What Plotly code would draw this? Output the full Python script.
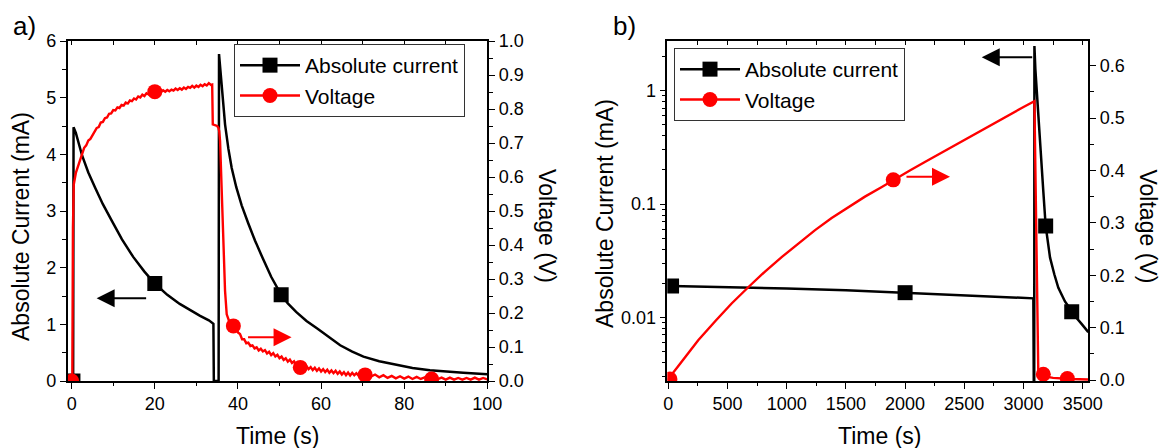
import plotly.graph_objects as go

# ---------------- Panel a data ----------------
a_cur_t = [0, 0.35, 0.45, 1.0, 2.5, 4.0, 5.7, 7.5, 9.7, 12.1, 14.8, 17.5, 20, 23, 26, 28.5, 30.9, 33, 34.1,
           34.2, 35.35, 35.45, 35.7, 36.2, 36.9, 37.7, 38.5, 39.6, 40.9, 42.5, 44.1, 46, 48, 50.4, 52, 54,
           56.5, 59, 61.5, 64.6, 67.5, 70.2, 74, 78.2, 82, 86.2, 90, 94.2, 100]
a_cur = [0, 0, 4.48, 4.38, 3.98, 3.68, 3.40, 3.12, 2.82, 2.50, 2.19, 1.93, 1.72, 1.52, 1.36, 1.25, 1.15, 1.07, 1.01,
         0, 0, 5.77, 5.55, 5.0, 4.53, 4.1, 3.76, 3.42, 3.1, 2.78, 2.48, 2.16, 1.84, 1.52, 1.37, 1.22,
         1.06, 0.93, 0.79, 0.63, 0.52, 0.43, 0.35, 0.28, 0.23, 0.19, 0.165, 0.145, 0.12]

a_volt_t = [0, 0.15, 0.3, 0.5,
            1.0, 1.5, 2.0, 2.5, 3.0, 3.5, 4.0, 4.5, 5.0, 5.5, 6.0, 6.5, 7.0, 7.5, 8.0, 8.5, 9.0, 9.5,
            10.0, 10.5, 11.0, 11.5, 12.0, 12.5, 13.0, 13.5, 14.0, 14.5, 15.0, 15.5, 16.0, 16.5, 17.0, 17.5,
            18.0, 18.5, 19.0, 19.5, 20.0, 20.5, 21.0, 21.5, 22.0, 22.5, 23.0, 23.5, 24.0, 24.5, 25.0, 25.5,
            26.0, 26.5, 27.0, 27.5, 28.0, 28.5, 29.0, 29.5, 30.0, 30.5, 31.0, 31.5, 32.0, 32.5, 33.0, 33.5,
            33.8, 33.95, 34.5, 35.0, 35.3, 35.5, 35.7, 36.1, 36.5, 36.9, 37.3, 37.7, 38.0,
            38.5, 39.0, 39.5, 40.0, 40.5, 41.0, 41.5, 42.0, 42.5, 43.0, 43.5, 44.0, 44.5, 45.0, 45.5, 46.0,
            46.5, 47.0, 47.5, 48.0, 48.5, 49.0, 49.5, 50.0, 50.5, 51.0, 51.5, 52.0, 52.5, 53.0, 53.5, 54.0,
            54.5, 55.0, 55.5, 56.0, 56.5, 57.0, 57.5, 58.0, 58.5, 59.0, 59.5, 60.0, 60.5, 61.0, 61.5, 62.0,
            62.5, 63.0, 63.5, 64.0, 64.5, 65.0, 65.5, 66.0, 66.5, 67.0, 67.5, 68.0, 68.5, 69.0, 69.5, 70.0,
            71, 72, 73, 74, 75, 76, 77, 78, 79, 80, 81, 82, 83, 84, 85, 86, 87, 88, 89, 90,
            91, 92, 93, 94, 95, 96, 97, 98, 99, 100]
a_volt = [0, 0.0, 0.45, 0.578,
          0.612, 0.630, 0.654, 0.670, 0.686, 0.693, 0.707, 0.712, 0.723, 0.731, 0.744, 0.747, 0.760, 0.762,
          0.773, 0.775, 0.786, 0.787,
          0.797, 0.796, 0.805, 0.803, 0.812, 0.810, 0.819, 0.816, 0.825, 0.823, 0.831, 0.828, 0.837, 0.834,
          0.842, 0.838,
          0.846, 0.843, 0.849, 0.847, 0.852, 0.849, 0.853, 0.850, 0.855, 0.851, 0.856, 0.852, 0.857, 0.854,
          0.860, 0.856,
          0.861, 0.857, 0.863, 0.859, 0.865, 0.862, 0.868, 0.863, 0.869, 0.865, 0.871, 0.867, 0.873, 0.869,
          0.876, 0.871,
          0.872, 0.755, 0.752, 0.750, 0.745, 0.735, 0.706, 0.56, 0.41, 0.265, 0.196, 0.180, 0.172,
          0.169, 0.159, 0.156, 0.143, 0.138, 0.123, 0.123, 0.111, 0.113, 0.103, 0.105, 0.096, 0.099, 0.090,
          0.095, 0.087,
          0.091, 0.081, 0.086, 0.076, 0.082, 0.072, 0.077, 0.067, 0.072, 0.062, 0.067, 0.057, 0.063, 0.053,
          0.058, 0.048,
          0.051, 0.042, 0.046, 0.038, 0.044, 0.035, 0.041, 0.032, 0.039, 0.030, 0.037, 0.028, 0.035, 0.026,
          0.033, 0.024,
          0.031, 0.023, 0.030, 0.021, 0.028, 0.019, 0.026, 0.017, 0.025, 0.016, 0.024, 0.017, 0.023, 0.016,
          0.022, 0.015,
          0.021, 0.013, 0.019, 0.011, 0.017, 0.009, 0.015, 0.008, 0.014, 0.007, 0.013, 0.006, 0.012, 0.006,
          0.011, 0.005, 0.011, 0.005, 0.010, 0.004,
          0.010, 0.004, 0.009, 0.004, 0.009, 0.004, 0.010, 0.004, 0.009, 0.005]

a_cur_mk_t = [0.3, 20, 50.4]
a_cur_mk = [0.0, 1.72, 1.52]
a_volt_mk_t = [0, 20, 38.9, 55, 70.6, 86.6]
a_volt_mk = [0.0, 0.851, 0.162, 0.040, 0.018, 0.006]

# ---------------- Panel b data ----------------
b_cur_t = [28, 500, 1000, 1500, 2000, 2500, 3000, 3083, 3090, 3092, 3100, 3111, 3125, 3139, 3153, 3167,
           3187, 3205, 3224, 3260, 3294, 3350, 3407, 3450, 3492, 3547]
b_cur = [0.0189, 0.0185, 0.0180, 0.0173, 0.0165, 0.0157, 0.0149, 0.0147, 0.0005, 2.48, 1.55, 0.99, 0.60,
         0.36, 0.21, 0.13, 0.064, 0.045, 0.0336, 0.024, 0.0182, 0.0138, 0.0112, 0.0098, 0.0087, 0.0074]

b_volt_t = [0, 14, 100, 253, 400, 535, 680, 817, 960, 1098, 1240, 1380, 1520, 1661, 1800, 1900, 2040,
            2182, 2340, 2500, 2620, 2745, 2900, 3000, 3092, 3125, 3160, 3200, 3250, 3300, 3400, 3547]
b_volt = [0.0, 0.006, 0.031, 0.076, 0.113, 0.146, 0.178, 0.207, 0.235, 0.261, 0.286, 0.309, 0.330, 0.350,
          0.368, 0.382, 0.400, 0.418, 0.438, 0.458, 0.474, 0.490, 0.509, 0.521, 0.532, 0.012, 0.009, 0.006,
          0.004, 0.003, 0.002, 0.001]

b_cur_mk_t = [28, 2000, 3187, 3407]
b_cur_mk = [0.0189, 0.0165, 0.064, 0.0112]
b_volt_mk_t = [14, 1900, 3167, 3370]
b_volt_mk = [0.002, 0.382, 0.011, 0.003]

# ---------------- Labels ----------------
cur_name = "Absolute current"
volt_name = "Voltage"
xtitle = "Time (s)"
ytitle_a = "Absolute Current (mA)"
ytitle_b = "Absolute Current (mA)"
y2title = "Voltage (V)"
log_tickvals = [0.01, 0.1, 1]
log_ticktext = ["0.01", "0.1", "1"]
log_minor = [0.003, 0.004, 0.005, 0.006, 0.007, 0.008, 0.009,
             0.02, 0.03, 0.04, 0.05, 0.06, 0.07, 0.08, 0.09,
             0.2, 0.3, 0.4, 0.5, 0.6, 0.7, 0.8, 0.9, 2]

W, H = 1162, 448
FONT = "Liberation Sans, Arial, sans-serif"
BLACK = "#000000"
RED = "#ff0000"

xa = [67.7 / W, 487.3 / W]
xb = [667.3 / W, 1088.3 / W]
yd = [1 - 381 / H, 1 - 41 / H]

fig = go.Figure()

def add(x, y, xa_, ya_, color, mode, symbol=None, width=2.5, name=None, legend="legend", showlegend=False):
    kw = dict(x=x, y=y, xaxis=xa_, yaxis=ya_, mode=mode, showlegend=showlegend, hoverinfo="skip")
    if "lines" in mode:
        kw["line"] = dict(color=color, width=width)
    if "markers" in mode:
        kw["marker"] = dict(color=color, symbol=symbol, size=15, line=dict(width=0))
    if name:
        kw["name"] = name
        kw["legend"] = legend
    fig.add_trace(go.Scatter(**kw))

# panel a
add(a_cur_t, a_cur, "x", "y", BLACK, "lines", width=2.5)
add(a_cur_mk_t, a_cur_mk, "x", "y", BLACK, "markers", symbol="square")
add(a_volt_t, a_volt, "x", "y2", RED, "lines", width=2.4)
add(a_volt_mk_t, a_volt_mk, "x", "y2", RED, "markers", symbol="circle")
add([None], [None], "x", "y", BLACK, "lines+markers", symbol="square", width=2.5, name=cur_name,
    legend="legend", showlegend=True)
add([None], [None], "x", "y2", RED, "lines+markers", symbol="circle", width=2.4, name=volt_name,
    legend="legend", showlegend=True)
fig.add_trace(go.Scatter(x=[None], y=[None], xaxis="x3", yaxis="y", showlegend=False, hoverinfo="skip"))

# panel b
add(b_cur_t, b_cur, "x2", "y3", BLACK, "lines", width=2.5)
add(b_cur_mk_t, b_cur_mk, "x2", "y3", BLACK, "markers", symbol="square")
add(b_volt_t, b_volt, "x2", "y4", RED, "lines", width=2.4)
add(b_volt_mk_t, b_volt_mk, "x2", "y4", RED, "markers", symbol="circle")
add([None], [None], "x2", "y3", BLACK, "lines+markers", symbol="square", width=2.5, name=cur_name,
    legend="legend2", showlegend=True)
add([None], [None], "x2", "y4", RED, "lines+markers", symbol="circle", width=2.4, name=volt_name,
    legend="legend2", showlegend=True)
fig.add_trace(go.Scatter(x=[None], y=[None], xaxis="x4", yaxis="y3", showlegend=False, hoverinfo="skip"))

TICKF = dict(family=FONT, size=18, color=BLACK)
common = dict(showgrid=False, zeroline=False, showline=True, linecolor=BLACK, linewidth=1.5,
              ticks="outside", ticklen=6, tickwidth=1.3, tickcolor=BLACK, tickfont=TICKF, automargin=False)
minor_common = dict(ticks="outside", ticklen=3.5, tickwidth=1.2, tickcolor=BLACK, showgrid=False)
top_common = dict(ticks="inside", ticklen=4, tickwidth=1.2, tickcolor=BLACK, showticklabels=False,
                  showgrid=False, zeroline=False, showline=False, automargin=False)

LEGF = dict(family=FONT, size=21, color=BLACK)
fig.update_layout(
    template="none",
    width=W, height=H, margin=dict(l=0, r=0, t=0, b=0, pad=0, autoexpand=False),
    paper_bgcolor="white", plot_bgcolor="white",
    font=dict(family=FONT, color=BLACK),
    xaxis=dict(domain=xa, range=[-0.96, 100], anchor="y", dtick=20, mirror=True,
               minor=dict(dtick=10, **minor_common), **common),
    yaxis=dict(domain=yd, range=[0, 6], anchor="x", dtick=1,
               minor=dict(dtick=0.5, **minor_common), **common),
    yaxis2=dict(overlaying="y", side="right", anchor="x", range=[0, 1], dtick=0.1, tickformat=".1f",
                minor=dict(dtick=0.05, **minor_common), **common),
    xaxis3=dict(overlaying="x", side="top", anchor="y", range=[-0.96, 100], dtick=10, **top_common),
    xaxis2=dict(domain=xb, range=[-8, 3547], anchor="y3", dtick=500, mirror=True,
                minor=dict(dtick=250, **minor_common), **common),
    yaxis3=dict(domain=yd, type="log", range=[-2.562, 0.4387], anchor="x2",
                tickvals=log_tickvals, ticktext=log_ticktext,
                minor=dict(tickvals=log_minor, **minor_common), **common),
    yaxis4=dict(overlaying="y3", side="right", anchor="x2", range=[-0.0019, 0.647], dtick=0.1,
                tickformat=".1f", minor=dict(dtick=0.05, **minor_common), **common),
    xaxis4=dict(overlaying="x2", side="top", anchor="y3", range=[-8, 3547], dtick=250, **top_common),
    legend=dict(x=234 / W, y=1 - 44 / H, xanchor="left", yanchor="top", bgcolor="white",
                bordercolor="#333333", borderwidth=1, font=LEGF, itemwidth=60, tracegroupgap=0),
    legend2=dict(x=674 / W, y=1 - 48 / H, xanchor="left", yanchor="top", bgcolor="white",
                 bordercolor="#333333", borderwidth=1, font=LEGF, itemwidth=60, tracegroupgap=0),
)

TF = dict(family=FONT, size=23, color=BLACK)
ann = [
    dict(text="a)", x=11 / W, y=1 - 26 / H, xanchor="left", yanchor="middle", font=dict(family=FONT, size=26)),
    dict(text="b)", x=611 / W, y=1 - 26 / H, xanchor="left", yanchor="middle", font=dict(family=FONT, size=26)),
    dict(text=xtitle, x=277.5 / W, y=1 - 436 / H, xanchor="center", yanchor="middle", font=TF),
    dict(text=xtitle, x=879 / W, y=1 - 436 / H, xanchor="center", yanchor="middle", font=TF),
    dict(text=ytitle_a, x=20.3 / W, y=1 - 226.7 / H, xanchor="center", yanchor="middle", textangle=-90, font=TF),
    dict(text=ytitle_b, x=605 / W, y=1 - 214 / H, xanchor="center", yanchor="middle", textangle=-90, font=TF),
    dict(text=y2title, x=546.7 / W, y=1 - 225.8 / H, xanchor="center", yanchor="middle", textangle=90, font=TF),
    dict(text=y2title, x=1147.5 / W, y=1 - 226 / H, xanchor="center", yanchor="middle", textangle=90, font=TF),
]
for a in ann:
    a.update(xref="paper", yref="paper", showarrow=False)
    fig.add_annotation(**a)

arrows = [
    dict(x=6.0, y=1.46, xref="x", yref="y", ax=51, color=BLACK),
    dict(x=52.9, y=0.129, xref="x", yref="y2", ax=-45, color=RED),
    dict(x=2647, y=0.295, xref="x2", yref="y3", ax=52, color=BLACK),
    dict(x=2379, y=0.388, xref="x2", yref="y4", ax=-45, color=RED),
]
for a in arrows:
    fig.add_annotation(x=a["x"], y=a["y"], xref=a["xref"], yref=a["yref"], ax=a["ax"], ay=0,
                       axref="pixel", ayref="pixel", text="", showarrow=True, arrowhead=2,
                       arrowsize=1.8, arrowwidth=2, arrowcolor=a["color"], standoff=0)

fig.write_html("out.html", config={"displayModeBar": False},
               post_script="document.body.style.margin='0px';document.body.style.padding='0px';"
                           "document.body.style.overflow='hidden';")
